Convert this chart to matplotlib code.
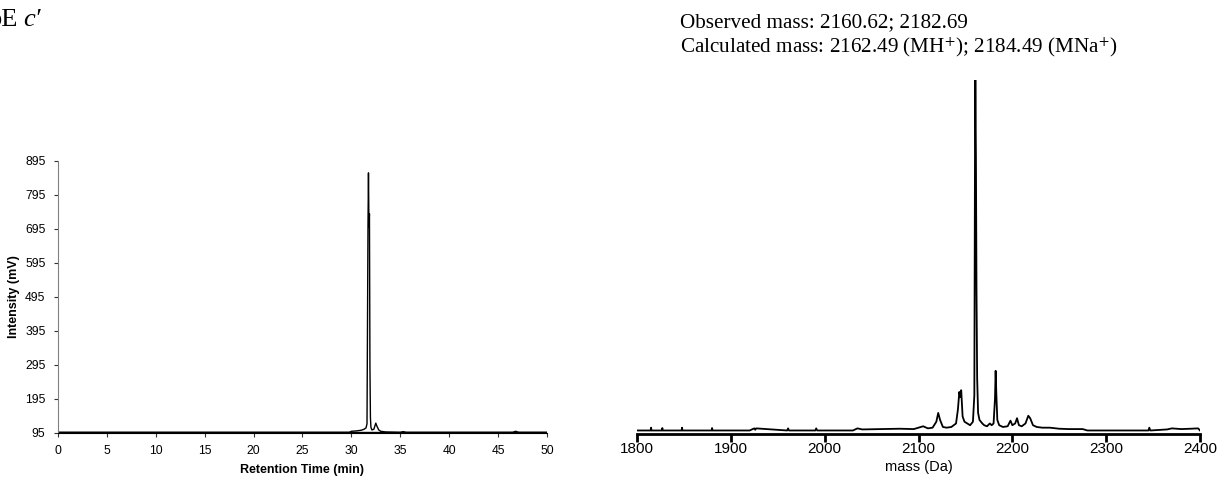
import matplotlib
matplotlib.use("Agg")
import matplotlib.pyplot as plt

plt.rcParams["mathtext.fontset"] = "stix"

# HPLC trace (left)
tiempo = [0, 29.8, 30.0, 30.5, 31.0, 31.3, 31.5, 31.6, 31.7, 31.75, 31.8, 31.85, 31.9,
          31.95, 32.0, 32.1, 32.3, 32.5, 32.6, 32.8, 33.0, 33.5, 35.0, 35.3, 35.6,
          46.5, 46.8, 47.1, 50]
intensidad = [97, 97, 100, 101, 103, 106, 110, 122, 700, 860, 700, 740, 290,
              140, 112, 104, 106, 124, 116, 104, 100, 98, 97, 99, 97,
              97, 100, 97, 97]
yticks_hplc = [95, 195, 295, 395, 495, 595, 695, 795, 895]
xticks_hplc = [0, 5, 10, 15, 20, 25, 30, 35, 40, 45, 50]

# MALDI spectrum (right), relative intensity
masa = [1800, 1814.5, 1815, 1815.5, 1826.5, 1827, 1827.5, 1847.5, 1848, 1848.5,
        1879.5, 1880, 1880.5, 1920, 1925, 1926, 1927, 1960, 1961, 1962, 1990, 1991,
        1992, 2030, 2035, 2040, 2060, 2080, 2095, 2100, 2105, 2110, 2115, 2119,
        2121, 2123, 2126, 2130, 2135, 2140, 2142, 2143.5, 2144.5, 2145.5, 2147,
        2149, 2152, 2155, 2158, 2159.5, 2160.2, 2160.6, 2161.2, 2161.8, 2162.5,
        2163.5, 2165, 2168, 2170, 2173, 2176, 2178, 2180, 2181.5, 2182.2, 2183,
        2184, 2186, 2190, 2195, 2198, 2200, 2203, 2205, 2207, 2210, 2214, 2217,
        2219, 2222, 2226, 2232, 2240, 2250, 2260, 2275, 2280, 2345, 2346, 2347,
        2365, 2370, 2380, 2390, 2398, 2400]
señal = [0, 0, 0.8, 0, 0, 0.7, 0, 0, 0.8, 0,
         0, 0.7, 0, 0, 0.6, 0.2, 0.6, 0, 0.6, 0, 0, 0.6,
         0, 0, 0.6, 0.3, 0.4, 0.5, 0.4, 0.8, 1.2, 0.6, 0.8, 2.5,
         5.0, 3.0, 1.0, 0.8, 1.0, 2.0, 6.0, 11.0, 9.5, 11.5, 4.0,
         2.5, 2.0, 1.5, 2.5, 10.0, 80.0, 100.0, 78.0, 40.0, 15.0,
         5.0, 3.0, 2.0, 1.5, 1.2, 2.0, 1.5, 2.0, 9.0, 17.0, 10.0,
         3.0, 1.5, 1.0, 1.2, 2.8, 1.5, 2.0, 3.5, 1.5, 1.2, 2.0, 4.2,
         3.5, 1.5, 1.0, 0.8, 0.8, 0.5, 0.4, 0.4, 0, 0, 0.8, 0,
         0.3, 0.6, 0.4, 0.5, 0.6, 0]
xticks_ms = [1800, 1900, 2000, 2100, 2200, 2300, 2400]

fig = plt.figure(figsize=(12.25, 4.82), dpi=100)

# left panel
ax1 = fig.add_axes([0.0473, 0.1017, 0.3992, 0.5643])
ax1.plot(tiempo, intensidad, color="black", lw=1.0)
ax1.axhline(97, color="black", lw=1.0)
ax1.set_xlim(0, 50)
ax1.set_ylim(95, 895)
ax1.set_xticks(xticks_hplc)
ax1.set_yticks(yticks_hplc)
ax1.spines["top"].set_visible(False)
ax1.spines["right"].set_visible(False)
ax1.spines["left"].set_color("#808080")
ax1.spines["bottom"].set_color("black")
ax1.tick_params(labelsize=8.7, length=3, colors="#333333", labelcolor="black",
                pad=6)
for lab in ax1.get_xticklabels() + ax1.get_yticklabels():
    lab.set_family("Liberation Sans")
ax1.set_xlabel("Retention Time (min)", fontsize=9, fontweight="bold",
               family="Liberation Sans", labelpad=5)
ax1.set_ylabel("Intensity (mV)", fontsize=9, fontweight="bold",
               family="Liberation Sans", labelpad=4)

# right panel
ax2 = fig.add_axes([0.52, 0.0996, 0.4596, 0.735])
ax2.plot(masa, señal, color="black", lw=1.3)
ax2.set_xlim(1800, 2400)
ax2.set_ylim(-1.0, 100)
ax2.set_xticks(xticks_ms)
ax2.set_yticks([])
for s in ["top", "right", "left"]:
    ax2.spines[s].set_visible(False)
ax2.spines["bottom"].set_linewidth(2)
ax2.tick_params(axis="x", labelsize=11, length=6, width=2, pad=0)
for lab in ax2.get_xticklabels():
    lab.set_family("Liberation Sans")
ax2.set_xlabel("mass (Da)", fontsize=10.5, family="Liberation Sans", labelpad=3)

# texts
fig.text(0.555, 0.944, "Observed mass: 2160.62; 2182.69", fontsize=15.2,
         family="Liberation Serif", va="baseline")
fig.text(0.555, 0.892, "Calculated mass: 2162.49 (MH$^{+}$); 2184.49 (MNa$^{+}$)",
         fontsize=15.2, family="Liberation Serif", va="baseline")
fig.text(-0.009, 0.946, "pE", fontsize=19, family="Liberation Serif", va="baseline")
fig.text(0.019, 0.946, "c\u2032", fontsize=19, family="Liberation Serif",
         style="italic", va="baseline")

fig.savefig("out.png", dpi=100)
